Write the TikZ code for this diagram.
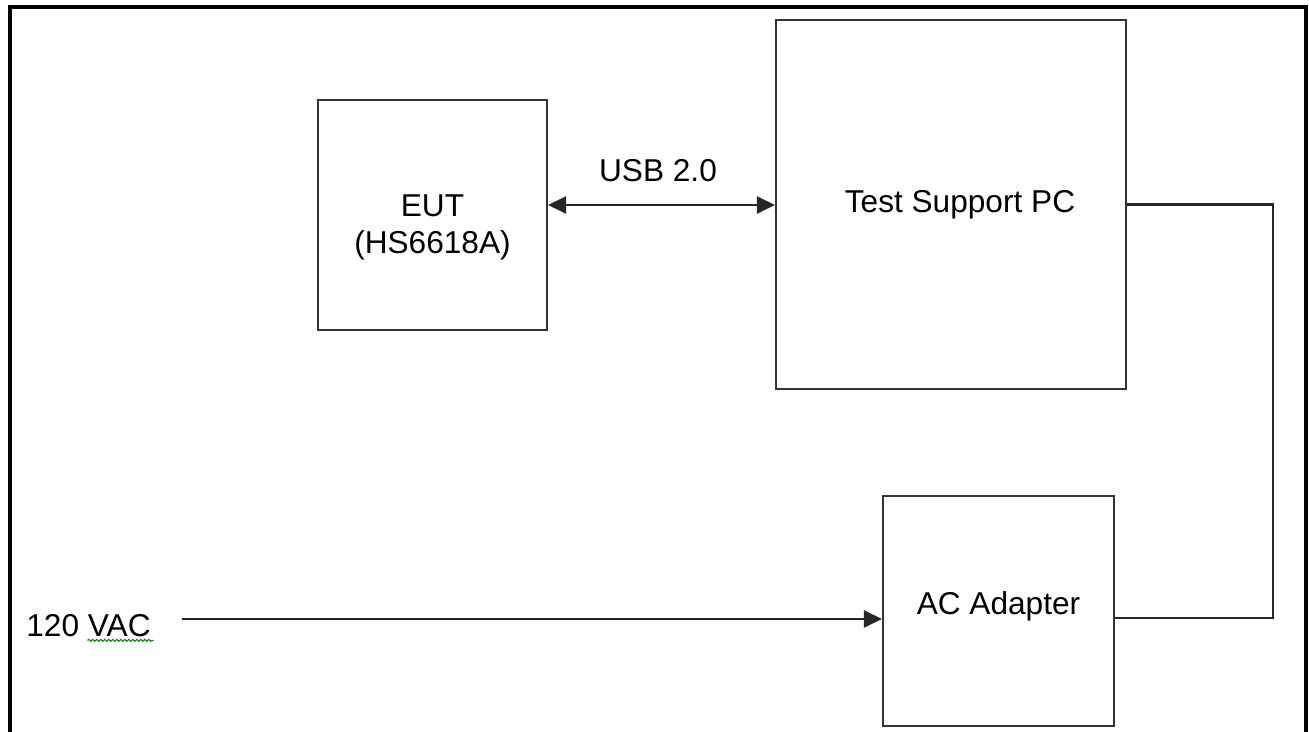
\documentclass[tikz,border=0pt]{standalone}
\usepackage{fontspec}
\setmainfont{Liberation Sans}
\usetikzlibrary{arrows.meta, positioning, decorations.pathmorphing}

\begin{document}
\begin{tikzpicture}[x=0.02cm, y=-0.02cm,
    unit/.style={draw=black!80, line width=1.2pt, fill=white, align=center, inner sep=0pt},
    wire/.style={black!85, line width=1.2pt},
    every node/.style={font=\fontsize{18}{20}\selectfont},
    >={Triangle[length=0.36cm, width=0.34cm]}]
    \useasboundingbox (0,0) rectangle (1309,732);
    \draw[line width=2pt] (10,732) -- (10,7) -- (1306,7) -- (1306,732);

    \node[unit, minimum width=4.58cm, minimum height=4.6cm] (eut) at (432.5,215)
      {\raisebox{-0.26cm}[\height][\depth]{\begin{tabular}{@{}c@{}}EUT\\[1pt](HS6618A)\end{tabular}}};
    \node[unit, minimum width=7.0cm, minimum height=7.38cm] (pc) at (951,204.5) {\hspace*{0.36cm}Test Support PC};
    \node[unit, minimum width=4.62cm, minimum height=4.6cm] (ac) at (998.5,611)
      {\raisebox{0.1cm}[\height][\depth]{AC Adapter}};
    \node (vac) at (88.5,626) {120 VAC};
    \node (usblbl) at (658,171) {USB 2.0};

    \coordinate (usb) at (660,205);
    \coordinate (vacin) at (182,619);
    \coordinate (tap) at (1273,618);

    \draw[wire, <->] (usb -| eut.east) -- (usb -| pc.west);
    \draw[wire, ->] (vacin) -- (vacin -| ac.west);
    \draw[wire] (pc.east) -| (tap) -- (tap -| ac.east);

    % spell-check mark
    \draw[green!55!black, line width=0.6pt, decorate, decoration={snake, amplitude=0.02cm, segment length=0.08cm}]
      (vac.south) ++(0,-3) ++(-1,0) -- ++(66,0);
\end{tikzpicture}
\end{document}
